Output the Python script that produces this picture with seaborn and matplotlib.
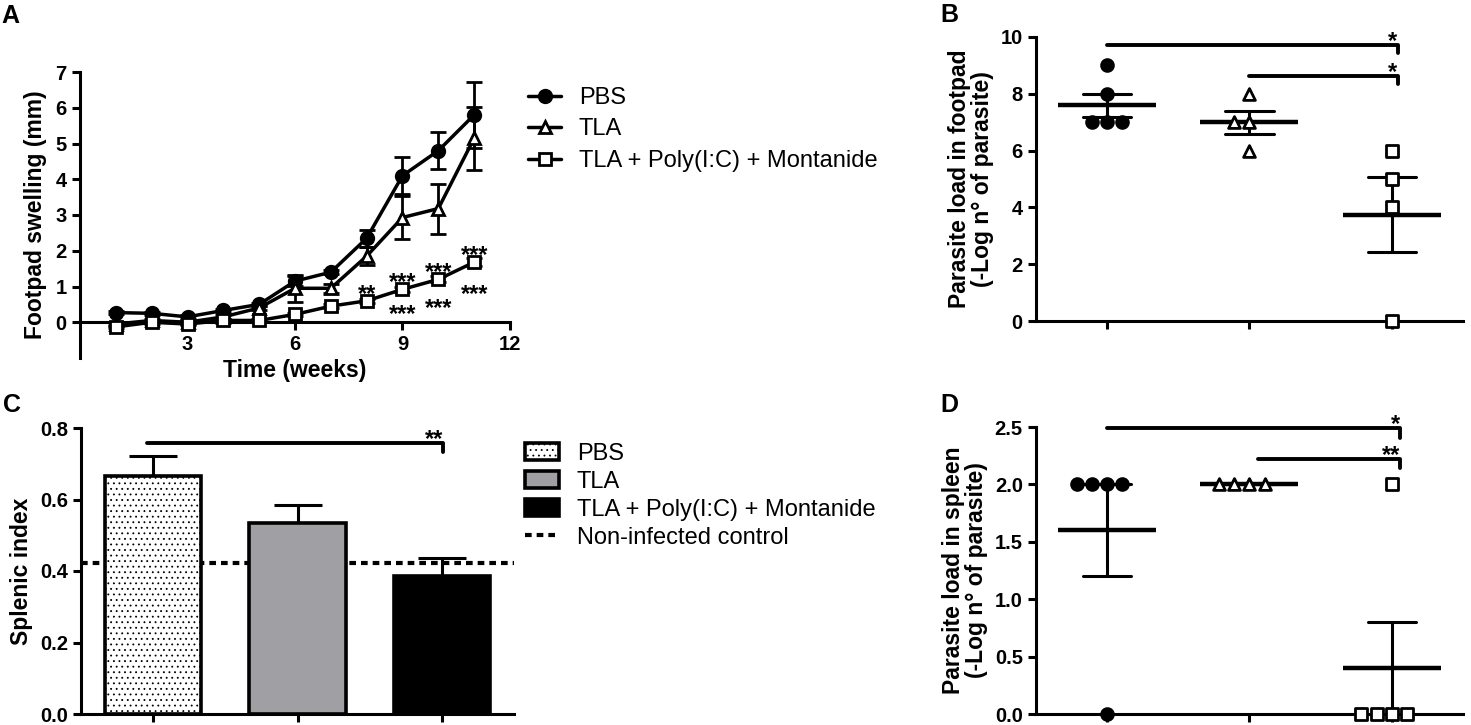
import matplotlib
matplotlib.use("Agg")
import matplotlib.pyplot as plt
import seaborn as sns
import numpy as np
import pandas as pd

sns.set_style("ticks", {"axes.edgecolor": "black", "xtick.color": "black", "ytick.color": "black",
                        "text.color": "black", "axes.labelcolor": "black"})
plt.rcParams['font.family'] = ['Liberation Sans', 'DejaVu Sans']
plt.rcParams['axes.linewidth'] = 2.2
for a in ['xtick', 'ytick']:
    plt.rcParams[a + '.major.width'] = 2.2
    plt.rcParams[a + '.major.size'] = 6
plt.rcParams['hatch.linewidth'] = 0.6

groups = ["PBS", "TLA", "TLA + Poly(I:C) + Montanide"]

# A - footpad swelling over time (mean and SEM)
weeks = [1, 2, 3, 4, 5, 6, 7, 8, 9, 10, 11]
pbs_swelling = [0.27, 0.25, 0.15, 0.33, 0.5, 1.15, 1.4, 2.35, 4.1, 4.8, 5.8]
pbs_sem = [0.05, 0.05, 0.05, 0.05, 0.05, 0.13, 0.05, 0.24, 0.52, 0.52, 0.93]
tla_swelling = [-0.05, 0.05, 0.0, 0.15, 0.4, 0.95, 0.95, 1.85, 2.93, 3.18, 5.15]
tla_sem = [0.05, 0.05, 0.05, 0.05, 0.05, 0.38, 0.13, 0.25, 0.6, 0.7, 0.88]
poly_swelling = [-0.13, 0.0, -0.05, 0.05, 0.05, 0.22, 0.45, 0.6, 0.92, 1.2, 1.68]
poly_sem = [0.04, 0.04, 0.04, 0.04, 0.04, 0.04, 0.05, 0.06, 0.08, 0.08, 0.12]
stars_above = {8: "**", 9: "***", 10: "***", 11: "***"}
stars_below = {9: "***", 10: "***", 11: "***"}

# B - parasite load in footpad (individual mice)
footpad_pbs = [9, 8, 7, 7, 7]
footpad_tla = [8, 7, 7, 6]
footpad_poly = [6, 5, 4, 0]

# C - splenic index
splenic_mean = [0.667, 0.534, 0.386]
splenic_sem = [0.055, 0.051, 0.05]
control_index = 0.422

# D - parasite load in spleen
spleen_pbs = [2, 2, 2, 2, 0]
spleen_tla = [2, 2, 2, 2]
spleen_poly = [2, 0, 0, 0, 0]

W, H = 1471, 725
TICK_FS = 14.5
LABEL_FS = 16.5
LEG_FS = 17
STAR_FS = 17


def px_rect(l, t, r, b):
    return [l / W, 1 - b / H, (r - l) / W, (b - t) / H]


def bold_ticks(ax, size=TICK_FS):
    ax.tick_params(labelsize=size)
    for lab in ax.get_xticklabels() + ax.get_yticklabels():
        lab.set_fontweight('bold')


def add_bracket(ax, x0, x1, y, drop, label):
    ax.plot([x0, x1, x1], [y, y, y - drop], color='black', lw=2.8,
            solid_joinstyle='round', solid_capstyle='round', clip_on=False)
    ax.annotate(label, (x1, y), xytext=(0, -2), textcoords='offset points',
                ha='right', va='baseline', fontsize=STAR_FS, fontweight='bold')


fig = plt.figure(figsize=(W / 100, H / 100), dpi=100)

# ---------------- A ----------------
ax = fig.add_axes(px_rect(80, 72, 510, 358))
series = [(pbs_swelling, pbs_sem, 'o', 'black'),
          (tla_swelling, tla_sem, '^', 'white'),
          (poly_swelling, poly_sem, 's', 'white')]
for name, (vals, sem, mk, face) in zip(groups, series):
    ax.errorbar(weeks, vals, yerr=sem, fmt='none', ecolor='black', elinewidth=2,
                capsize=5.5, capthick=2, zorder=2)
    sns.lineplot(x=weeks, y=vals, ax=ax, color='black', linewidth=2.5, marker=mk,
                 markersize=9, markerfacecolor=face, markeredgecolor='black',
                 markeredgewidth=2, label=name, zorder=3)
for w, s in stars_above.items():
    ax.annotate(s, (w, poly_swelling[weeks.index(w)]), xytext=(0, 0), textcoords='offset points',
                ha='center', va='baseline', fontsize=STAR_FS, fontweight='bold')
below_off = {9: -10, 10: -13, 11: -15}
for w, s in stars_below.items():
    ax.annotate(s, (w, poly_swelling[weeks.index(w)]), xytext=(0, below_off[w]), textcoords='offset points',
                ha='center', va='top', fontsize=STAR_FS, fontweight='bold')
ax.set_xlim(0, 12)
ax.set_ylim(-1, 7)
ax.set_xticks([3, 6, 9, 12])
ax.set_yticks(range(0, 8))
ax.spines['bottom'].set_position(('data', 0))
sns.despine(ax=ax)
ax.set_xlabel('Time (weeks)', fontsize=LABEL_FS, fontweight='bold', labelpad=3)
ax.set_ylabel('Footpad swelling (mm)', fontsize=LABEL_FS, fontweight='bold', labelpad=6)
bold_ticks(ax)
h, l = ax.get_legend_handles_labels()
ax.legend(h, l, loc='upper left', bbox_to_anchor=(528 / W, 1 - 87 / H), bbox_transform=fig.transFigure,
          frameon=False, fontsize=LEG_FS, handlelength=1.4, handletextpad=0.75, labelspacing=0.4,
          borderpad=0, borderaxespad=0)

# ---------------- B / D data frames ----------------
df_b = pd.DataFrame({'group': [groups[0]] * len(footpad_pbs) + [groups[1]] * len(footpad_tla)
                     + [groups[2]] * len(footpad_poly),
                     'load': footpad_pbs + footpad_tla + footpad_poly})
df_d = pd.DataFrame({'group': [groups[0]] * len(spleen_pbs) + [groups[1]] * len(spleen_tla)
                     + [groups[2]] * len(spleen_poly),
                     'load': spleen_pbs + spleen_tla + spleen_poly})

markers = {groups[0]: ('o', 'black'), groups[1]: ('^', 'white'), groups[2]: ('s', 'white')}


def scatter_panel(ax, df):
    # mean line with SEM whiskers, then the single animals on top
    sns.pointplot(data=df, x='group', y='load', order=groups, errorbar='se', capsize=0.34,
                  color='black', marker='_', markersize=70, markeredgewidth=3.2,
                  linestyle='none', err_kws={'linewidth': 2.2}, ax=ax)
    for g in groups:
        mk, face = markers[g]
        sns.swarmplot(data=df[df['group'] == g], x='group', y='load', order=groups, marker=mk,
                      color=face, edgecolor='black', linewidth=2, size=8.5, ax=ax, zorder=4)
    ax.set_xlim(-0.5, 2.5)
    ax.set_xlabel('')
    ax.set_xticks(range(3))
    ax.set_xticklabels([])
    sns.despine(ax=ax)
    for art in ax.collections + ax.lines:
        art.set_clip_on(False)


# ---------------- B ----------------
ax = fig.add_axes(px_rect(1036, 37, 1463, 321))
scatter_panel(ax, df_b)
ax.set_ylim(0, 10)
ax.set_yticks(range(0, 11, 2))
ax.set_ylabel('Parasite load in footpad\n(-Log n° of parasite)', fontsize=LABEL_FS, fontweight='bold',
              labelpad=5, linespacing=1.0)
bold_ticks(ax)
add_bracket(ax, 0.0, 2.04, 9.72, 0.3, '*')
add_bracket(ax, 1.0, 2.04, 8.63, 0.3, '*')

# ---------------- D ----------------
ax = fig.add_axes(px_rect(1036, 427, 1463, 714))
scatter_panel(ax, df_d)
ax.set_ylim(0, 2.5)
ax.set_yticks(np.arange(0, 2.51, 0.5))
ax.set_yticklabels(['%.1f' % v for v in np.arange(0, 2.51, 0.5)])
ax.set_ylabel('Parasite load in spleen\n(-Log n° of parasite)', fontsize=LABEL_FS, fontweight='bold',
              labelpad=5, linespacing=1.0)
bold_ticks(ax)
add_bracket(ax, 0.0, 2.06, 2.49, 0.09, '*')
add_bracket(ax, 1.06, 2.06, 2.22, 0.08, '**')

# ---------------- C ----------------
ax = fig.add_axes(px_rect(81, 428, 514, 714))
df_c = pd.DataFrame({'group': groups, 'index': splenic_mean})
sns.barplot(data=df_c, x='group', y='index', hue='group', order=groups, hue_order=groups,
            palette=['white', '#a0a0a4', 'black'], edgecolor='black', linewidth=2.6,
            width=0.667, legend=False, ax=ax, zorder=2)
ax.patches[0].set_hatch('...')
ax.errorbar(np.arange(len(groups)), splenic_mean, yerr=[np.zeros(len(groups)), splenic_sem],
            fmt='none', ecolor='black', elinewidth=2.2, capsize=17, capthick=2.2, zorder=1)
ctrl = ax.axhline(control_index, color='black', linestyle=(0, (1.6, 1.2)), linewidth=3, zorder=1.5)
ax.set_xlim(-0.5, 2.5)
ax.set_ylim(0, 0.8)
ax.set_yticks(np.arange(0, 0.81, 0.2))
ax.set_yticklabels(['%.1f' % v for v in np.arange(0, 0.81, 0.2)])
ax.set_xticks(range(3))
ax.set_xticklabels([])
ax.set_xlabel('')
ax.set_ylabel('Splenic index', fontsize=LABEL_FS, fontweight='bold', labelpad=5)
sns.despine(ax=ax)
bold_ticks(ax)
add_bracket(ax, -0.04, 2.01, 0.758, 0.025, '**')
ax.legend(list(ax.patches[:3]) + [ctrl], groups + ['Non-infected control'], loc='upper left',
          bbox_to_anchor=(525 / W, 1 - 443 / H), bbox_transform=fig.transFigure, frameon=False,
          fontsize=LEG_FS, handlelength=1.45, handletextpad=0.75, labelspacing=0.25,
          borderpad=0, borderaxespad=0)

# panel letters
for letter, x, y in [('A', 1, 16), ('B', 940, 15), ('C', 3, 405), ('D', 940, 405)]:
    fig.text(x / W, 1 - y / H, letter, fontsize=18, fontweight='bold', va='center', ha='left')

fig.savefig('out.png', dpi=100)
